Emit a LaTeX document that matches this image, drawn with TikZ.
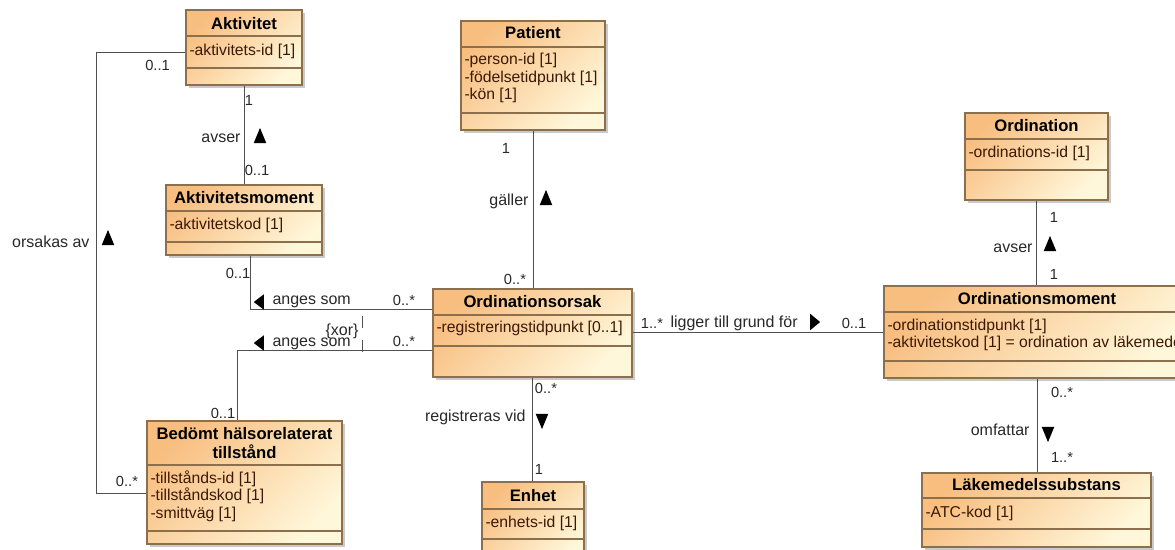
\documentclass[tikz,border=0pt]{standalone}
\usepackage{fontspec}
\setmainfont{Liberation Sans}
\usetikzlibrary{fit,shadows,shapes.geometric}
\tikzset{every picture/.style={line width=0.75pt}}
\definecolor{boxline}{RGB}{140,112,78}
\definecolor{boxtop}{RGB}{248,190,128}
\definecolor{boxbottom}{RGB}{255,247,218}
\definecolor{assocline}{RGB}{80,80,80}
\definecolor{attrcolor}{RGB}{60,25,5}
\definecolor{labelcolor}{RGB}{40,40,40}
\tikzset{
  classbox/.style={draw=boxline, line width=0.9pt, top color=boxtop, bottom color=boxbottom, shading angle=45, inner sep=0pt,
    drop shadow={shadow xshift=2pt, shadow yshift=-2pt, opacity=0.35, fill=black!60}},
  compline/.style={draw=boxline, line width=0.9pt},
  classname/.style={inner sep=0.75pt, font=\bfseries\fontsize{12.5}{13.8}\selectfont, align=center, text=black},
  attrlist/.style={inner sep=0.75pt, anchor=west, align=left, font=\fontsize{11.8}{13.2}\selectfont, text=attrcolor},
  assoc/.style={draw=assocline, line width=0.75pt},
  mult/.style={inner sep=0.75pt, font=\fontsize{11}{12}\selectfont, text=labelcolor},
  rolename/.style={inner sep=0.75pt, font=\fontsize{12}{13}\selectfont, text=labelcolor},
  navmark/.style={isosceles triangle, isosceles triangle stretches, fill=black, inner sep=0pt},
  navup/.style={navmark, shape border rotate=90, minimum width=9.5pt, minimum height=11.5pt},
  navdown/.style={navmark, shape border rotate=270, minimum width=9.5pt, minimum height=11.5pt},
  navleft/.style={navmark, shape border rotate=180, minimum width=11.5pt, minimum height=7.5pt},
  navright/.style={navmark, shape border rotate=0, minimum width=12.5pt, minimum height=7.5pt},
}

\begin{document}
\begin{tikzpicture}[x=0.75pt,y=0.75pt,yscale=-1,xscale=1]
\useasboundingbox (0,0) rectangle (1175,550);

%Shape: Class Aktivitet
\node [classbox, fit={(186,10) (302,85)}] (akt) {};
\draw [compline] (akt.west |- 0,36) -- (akt.east |- 0,36) ;
\draw [compline] (akt.west |- 0,68) -- (akt.east |- 0,68) ;
%Shape: Class Aktivitetsmoment
\node [classbox, fit={(166,185) (322,255)}] (aktm) {};
\draw [compline] (aktm.west |- 0,211) -- (aktm.east |- 0,211) ;
\draw [compline] (aktm.west |- 0,242) -- (aktm.east |- 0,242) ;
%Shape: Class Bedomt halsorelaterat tillstand
\node [classbox, fit={(147,421) (342,544)}] (bed) {};
\draw [compline] (bed.west |- 0,465) -- (bed.east |- 0,465) ;
\draw [compline] (bed.west |- 0,531) -- (bed.east |- 0,531) ;
%Shape: Class Patient
\node [classbox, fit={(461,21) (605,130)}] (pat) {};
\draw [compline] (pat.west |- 0,47) -- (pat.east |- 0,47) ;
\draw [compline] (pat.west |- 0,113) -- (pat.east |- 0,113) ;
%Shape: Class Ordinationsorsak
\node [classbox, fit={(433,289) (632,377)}] (ors) {};
\draw [compline] (ors.west |- 0,315) -- (ors.east |- 0,315) ;
\draw [compline] (ors.west |- 0,346) -- (ors.east |- 0,346) ;
%Shape: Class Enhet
\node [classbox, fit={(482,482) (584,562)}] (enh) {};
\draw [compline] (enh.west |- 0,509) -- (enh.east |- 0,509) ;
\draw [compline] (enh.west |- 0,539) -- (enh.east |- 0,539) ;
%Shape: Class Ordination
\node [classbox, fit={(965,113) (1108,200)}] (ord) {};
\draw [compline] (ord.west |- 0,139) -- (ord.east |- 0,139) ;
\draw [compline] (ord.west |- 0,170) -- (ord.east |- 0,170) ;
%Shape: Class Ordinationsmoment
\node [classbox, fit={(884,286) (1190,378)}] (orm) {};
\draw [compline] (orm.west |- 0,312) -- (orm.east |- 0,312) ;
\draw [compline] (orm.west |- 0,361) -- (orm.east |- 0,361) ;
%Shape: Class Lakemedelssubstans
\node [classbox, fit={(922,473) (1151,547)}] (lak) {};
\draw [compline] (lak.west |- 0,498) -- (lak.east |- 0,498) ;
\draw [compline] (lak.west |- 0,529) -- (lak.east |- 0,529) ;

%Straight Lines
\draw [assoc] (akt) -- (aktm) ;
\draw [assoc] (pat.south) -- (pat.south |- ors.north) ;
\draw [assoc] (ors.south) -- (ors.south |- enh.north) ;
\draw [assoc] (ord.south) -- (ord.south |- orm.north) ;
\draw [assoc] (orm.south) -- (orm.south |- lak.north) ;
\coordinate (ligger) at (760,332) ;
\draw [assoc] (ors.east |- ligger) -- (orm.west |- ligger) ;
%Straight Lines: orsakas av
\coordinate (orsak-bend1) at (96,52) ;
\coordinate (orsak-bend2) at (96,493) ;
\draw [assoc] (akt.west |- orsak-bend1) -- (orsak-bend1) -- (orsak-bend2) -- (bed.west |- orsak-bend2) ;
%Straight Lines: anges som
\coordinate (anges1-bend) at (250,309) ;
\draw [assoc] (aktm.south -| anges1-bend) -- (anges1-bend) -- (ors.west |- anges1-bend) ;
\coordinate (anges2-bend) at (237,350) ;
\draw [assoc] (ors.west |- anges2-bend) -- (anges2-bend) -- (bed.north -| anges2-bend) ;
%Dashed Lines: xor
\coordinate (xor-top) at (362,316) ;
\coordinate (xor-bot) at (362,354) ;
\draw [assoc, line width=0.6pt, dash pattern=on 9pt off 9pt] (xor-top) -- (xor-bot) ;

% Text Node
\draw (244,24) node (akt-name) [classname] {Aktivitet};
\draw (188,51) node (akt-attr) [attrlist] {-aktivitets-id [1]};
\draw (244,198) node (aktm-name) [classname] {Aktivitetsmoment};
\draw (168,225) node (aktm-attr) [attrlist] {-aktivitetskod [1]};
\draw (244.5,443) node (bed-name) [classname] {Bedömt hälsorelaterat\\tillstånd};
\draw (149,496) node (bed-attr) [attrlist] {-tillstånds-id [1]\\-tillståndskod [1]\\-smittväg [1]};
\draw (533,33) node (pat-name) [classname] {Patient};
\draw (463,78) node (pat-attr) [attrlist] {-person-id [1]\\-födelsetidpunkt [1]\\-kön [1]};
\draw (532.5,302) node (ors-name) [classname] {Ordinationsorsak};
\draw (435,328) node (ors-attr) [attrlist] {-registreringstidpunkt [0..1]};
\draw (533,496) node (enh-name) [classname] {Enhet};
\draw (484,523) node (enh-attr) [attrlist] {-enhets-id [1]};
\draw (1036.5,126) node (ord-name) [classname] {Ordination};
\draw (967,153) node (ord-attr) [attrlist] {-ordinations-id [1]};
\draw (1037,299) node (orm-name) [classname] {Ordinationsmoment};
\draw (886,335) node (orm-attr) [attrlist] {-ordinationstidpunkt [1]\\-aktivitetskod [1] = ordination av läkemedel};
\draw (1036.5,485) node (lak-name) [classname] {Läkemedelssubstans};
\draw (924,513) node (lak-attr) [attrlist] {-ATC-kod [1]};

% Text Node: multiplicities
\draw (249,100) node (m-akt) [mult] {1};
\draw (257,170) node (m-aktm) [mult] {0..1};
\draw (157.5,65) node (m-orsak1) [mult] {0..1};
\draw (127,481) node (m-orsak2) [mult] {0..*};
\draw (238,273) node (m-anges1a) [mult] {0..1};
\draw (404,300) node (m-anges1b) [mult] {0..*};
\draw (223,413) node (m-anges2a) [mult] {0..1};
\draw (404,341) node (m-anges2b) [mult] {0..*};
\draw (506,148) node (m-pat) [mult] {1};
\draw (515,279) node (m-ors) [mult] {0..*};
\draw (652,323) node (m-ligger1) [mult] {1..*};
\draw (854,323) node (m-ligger2) [mult] {0..1};
\draw (546,388) node (m-reg1) [mult] {0..*};
\draw (539,469) node (m-reg2) [mult] {1};
\draw (1054,217) node (m-ord1) [mult] {1};
\draw (1054,274) node (m-ord2) [mult] {1};
\draw (1062,392) node (m-omf1) [mult] {0..*};
\draw (1062,457) node (m-omf2) [mult] {1..*};

% Text Node: association names
\draw (242,138) node (r-avser1) [rolename, anchor=east] {avser};
\draw (91,242) node (r-orsak) [rolename, anchor=east] {orsakas av};
\draw (271,302) node (r-anges1) [rolename, anchor=west] {anges som};
\draw (271,344) node (r-anges2) [rolename, anchor=west] {anges som};
\draw (342,331) node (r-xor) [rolename] {\{xor\}};
\draw (530,201) node (r-galler) [rolename, anchor=east] {gäller};
\draw (669,323) node (r-ligger) [rolename, anchor=west] {ligger till grund för};
\draw (527,417) node (r-reg) [rolename, anchor=east] {registreras vid};
\draw (1034,248) node (r-avser2) [rolename, anchor=east] {avser};
\draw (1031,430) node (r-omf) [rolename, anchor=east] {omfattar};

%Shape: Triangle direction marks
\draw (260,139) node (n-avser1) [navup] {};
\draw (108,241) node (n-orsak) [navup] {};
\draw (260,302) node (n-anges1) [navleft] {};
\draw (260,343) node (n-anges2) [navleft] {};
\draw (546,201) node (n-galler) [navup] {};
\draw (814,322) node (n-ligger) [navright] {};
\draw (542,418) node (n-reg) [navdown] {};
\draw (1050,247) node (n-avser2) [navup] {};
\draw (1048,431) node (n-omf) [navdown] {};

\end{tikzpicture}
\end{document}
